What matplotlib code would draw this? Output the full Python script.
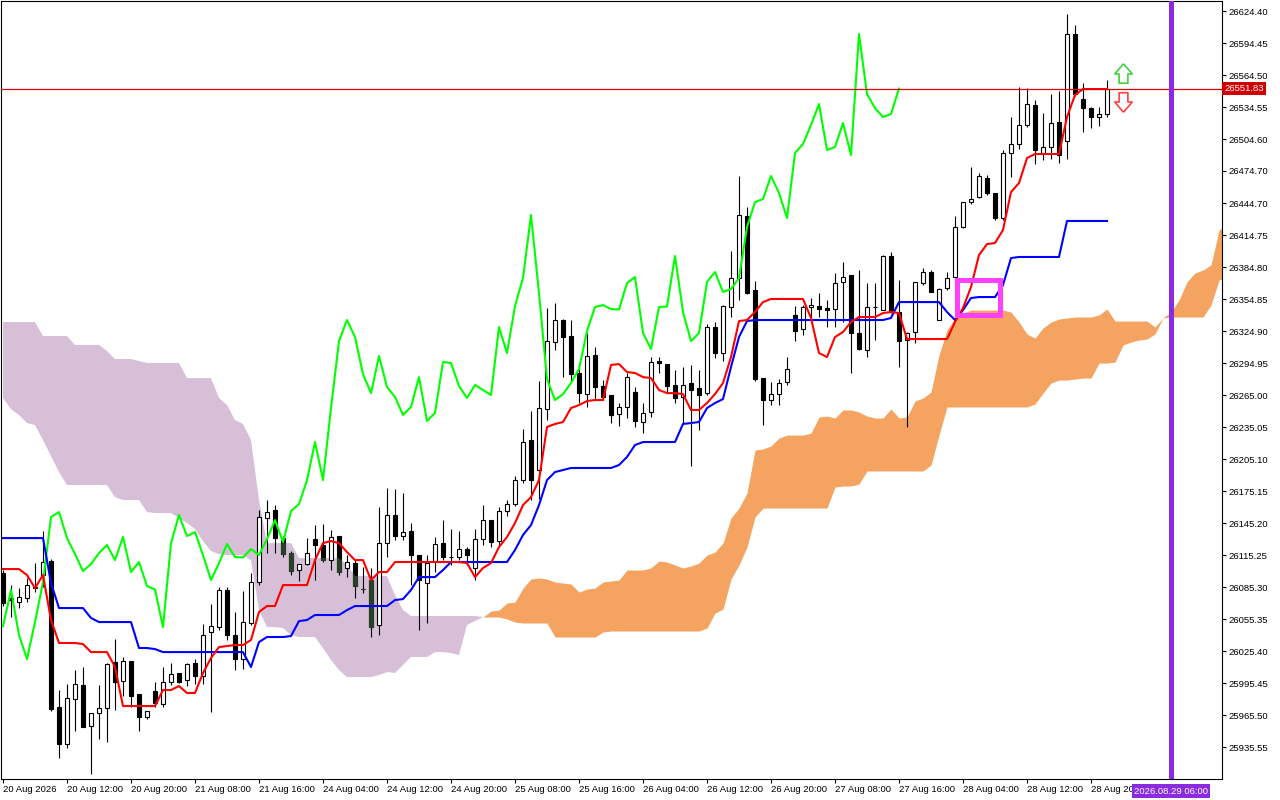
import numpy as np
import matplotlib
matplotlib.use("Agg")
import matplotlib.pyplot as plt
from matplotlib.path import Path
from matplotlib.patches import Rectangle
import matplotlib.transforms as mtransforms

plt.rcParams['font.family'] = ['Liberation Sans', 'DejaVu Sans']

# hourly candles, bar 0 is the leftmost one
opens = [26098.4, 26075.0, 26071.2, 26075.0, 26085.3, 26096.5, 26109.6, 25972.9, 25938.3, 25980.4,
         25993.5, 25955.2, 25967.3, 25972.0, 26015.1, 25997.3, 26016.0, 25985.1, 25963.6, 25987.9,
         25975.8, 25996.3, 26004.8, 25998.2, 26014.1, 26002.0, 26043.1, 26047.8, 26082.5, 26040.3,
         26017.9, 26051.6, 26089.9, 26149.9, 26157.3, 26131.1, 26117.1, 26101.2, 26106.8, 26130.2,
         26124.6, 26110.5, 26133.0, 26103.1, 26107.7, 26083.4, 26091.8, 26049.7, 26126.4, 26152.7,
         26133.0, 26137.7, 26115.2, 26089.0, 26109.6, 26126.4, 26113.3, 26113.3, 26120.8, 26103.1,
         26130.2, 26148.0, 26128.3, 26156.4, 26162.9, 26185.4, 26222.9, 26194.8, 26251.9, 26314.6,
         26335.2, 26320.2, 26285.6, 26265.9, 26302.4, 26273.4, 26265.0, 26247.2, 26253.8, 26267.8,
         26239.7, 26249.1, 26296.8, 26294.0, 26274.4, 26263.1, 26276.2, 26271.6, 26266.8, 26328.6,
         26304.3, 26347.4, 26374.5, 26432.5, 26363.3, 26280.9, 26260.3, 26265.9, 26277.1, 26339.9,
         26326.8, 26347.4, 26348.3, 26346.0, 26345.5, 26370.8, 26377.3, 26323.0, 26307.1, 26347.4,
         26344.5, 26395.1, 26342.7, 26316.5, 26324.0, 26369.8, 26380.1, 26335.2, 26365.2, 26375.4,
         26422.2, 26445.6, 26450.3, 26468.1, 26454.1, 26430.7, 26491.5, 26499.9, 26517.7, 26536.4,
         26491.5, 26497.1, 26520.5, 26502.7, 26602.9, 26542.0, 26533.6, 26525.2, 26528.0]
highs = [26101.2, 26087.1, 26084.3, 26093.7, 26107.7, 26137.7, 26111.5, 25988.9, 25994.5, 26007.6,
         26010.4, 25967.3, 25993.5, 26014.1, 26036.6, 26019.7, 26016.0, 25985.1, 25969.2, 25996.3,
         26010.4, 26014.1, 26004.8, 26014.1, 26017.9, 26050.6, 26069.4, 26085.3, 26085.3, 26061.9,
         26081.5, 26098.4, 26157.3, 26166.7, 26162.0, 26133.0, 26118.9, 26106.8, 26131.1, 26143.3,
         26144.2, 26138.6, 26133.0, 26115.2, 26110.5, 26104.0, 26103.1, 26160.2, 26177.9, 26177.0,
         26173.3, 26145.2, 26115.2, 26115.2, 26132.1, 26148.0, 26139.5, 26137.7, 26122.7, 26139.5,
         26162.0, 26148.0, 26160.2, 26166.7, 26189.2, 26233.2, 26250.0, 26278.1, 26346.4, 26351.1,
         26336.1, 26335.2, 26294.9, 26323.0, 26309.9, 26279.1, 26265.0, 26257.5, 26285.6, 26272.5,
         26257.5, 26300.5, 26300.5, 26294.0, 26288.4, 26291.2, 26293.1, 26288.4, 26331.4, 26333.3,
         26349.2, 26399.6, 26469.9, 26441.0, 26371.7, 26280.9, 26277.1, 26280.0, 26300.5, 26348.3,
         26349.2, 26355.8, 26360.5, 26353.9, 26379.2, 26389.5, 26377.3, 26382.0, 26369.8, 26369.8,
         26396.0, 26398.8, 26372.6, 26324.0, 26370.8, 26383.8, 26382.0, 26365.2, 26380.1, 26432.5,
         26445.6, 26478.4, 26472.8, 26470.9, 26454.1, 26494.3, 26525.2, 26553.3, 26552.3, 26541.1,
         26528.9, 26546.7, 26549.5, 26621.6, 26611.3, 26557.0, 26534.6, 26534.6, 26559.8]
lows = [26067.5, 26057.2, 26065.6, 26071.2, 26080.6, 26085.3, 25969.2, 25925.2, 25934.6, 25950.5,
        25954.2, 25910.2, 25943.0, 25940.2, 25970.1, 25983.2, 25972.9, 25950.5, 25961.7, 25972.9,
        25972.9, 25993.5, 25995.4, 25992.6, 25994.5, 25994.5, 25968.3, 26045.0, 26035.7, 26007.6,
        26008.5, 26049.7, 26087.1, 26117.1, 26117.1, 26113.3, 26096.5, 26090.9, 26105.9, 26091.8,
        26108.7, 26101.2, 26096.5, 26094.6, 26075.0, 26079.7, 26038.5, 26040.3, 26113.3, 26129.3,
        26129.3, 26087.1, 26045.0, 26051.6, 26099.3, 26110.5, 26105.9, 26110.5, 26105.9, 26091.8,
        26124.6, 26122.7, 26124.6, 26151.7, 26161.1, 26182.6, 26166.7, 26167.6, 26241.6, 26307.1,
        26281.8, 26277.1, 26257.5, 26253.8, 26260.3, 26260.3, 26238.8, 26236.0, 26243.5, 26235.1,
        26229.4, 26244.4, 26285.6, 26266.8, 26257.5, 26238.8, 26198.5, 26232.2, 26265.0, 26299.6,
        26296.8, 26338.0, 26353.9, 26359.5, 26278.1, 26236.9, 26255.6, 26255.6, 26274.4, 26315.5,
        26321.1, 26335.2, 26338.0, 26328.6, 26328.6, 26333.3, 26285.6, 26307.1, 26300.5, 26316.5,
        26344.5, 26341.7, 26291.2, 26235.1, 26313.7, 26368.0, 26361.4, 26335.2, 26363.3, 26372.6,
        26421.3, 26443.7, 26449.4, 26452.2, 26428.8, 26428.8, 26469.0, 26495.2, 26515.8, 26481.2,
        26484.9, 26485.9, 26482.1, 26485.9, 26544.8, 26511.2, 26514.9, 26516.8, 26525.2]
closes = [26070.3, 26073.1, 26075.9, 26087.1, 26084.3, 26108.7, 25971.1, 25938.3, 25981.4, 25994.5,
          25954.2, 25967.3, 25972.0, 26013.2, 25996.3, 26016.0, 25983.2, 25963.6, 25969.2, 25976.7,
          25996.3, 26003.8, 25996.3, 26013.2, 26002.0, 26040.3, 26048.7, 26082.5, 26040.3, 26017.9,
          26052.5, 26089.9, 26150.8, 26155.5, 26131.1, 26116.1, 26100.2, 26106.8, 26117.1, 26124.6,
          26110.5, 26132.1, 26099.3, 26108.7, 26086.2, 26083.0, 26047.8, 26126.4, 26152.7, 26133.0,
          26136.7, 26115.2, 26091.8, 26107.7, 26125.5, 26113.3, 26113.0, 26120.8, 26115.2, 26130.2,
          26148.0, 26127.4, 26156.4, 26162.9, 26185.4, 26221.0, 26185.4, 26252.8, 26315.5, 26335.2,
          26319.3, 26284.6, 26266.8, 26301.5, 26272.5, 26263.1, 26246.3, 26253.8, 26281.8, 26240.7,
          26248.2, 26295.9, 26294.9, 26273.4, 26262.2, 26274.4, 26269.7, 26265.0, 26328.6, 26304.3,
          26348.3, 26374.5, 26433.5, 26360.4, 26280.0, 26260.3, 26265.9, 26276.2, 26289.3, 26324.9,
          26347.4, 26349.2, 26345.5, 26345.0, 26369.8, 26375.4, 26323.0, 26308.0, 26347.4, 26347.8,
          26395.1, 26342.7, 26315.5, 26323.0, 26370.8, 26380.1, 26361.4, 26364.2, 26374.5, 26422.2,
          26445.6, 26448.4, 26470.0, 26454.1, 26430.7, 26491.5, 26499.9, 26517.7, 26537.4, 26494.3,
          26497.1, 26519.6, 26489.6, 26602.9, 26546.7, 26533.6, 26525.2, 26528.0, 26551.83]

# ichimoku lines
tenkan = [26102.1, 26102.1, 26102.1, 26096.5, 26084.3, 26096.5, 26054.4, 26032.9, 26032.9, 26032.9,
          26031.9, 26024.4, 26024.4, 26024.4, 26010.4, 25973.9, 25973.9, 25973.9, 25973.9, 25973.9,
          25988.9, 25988.9, 25992.6, 25986.1, 25986.1, 26004.8, 26018.8, 26029.1, 26030.0, 26031.0,
          26031.0, 26035.7, 26061.9, 26067.5, 26067.5, 26087.1, 26087.1, 26087.1, 26087.1, 26110.5,
          26126.4, 26128.3, 26126.4, 26118.0, 26110.5, 26110.5, 26091.8, 26099.3, 26099.3, 26108.7,
          26108.7, 26108.7, 26108.7, 26108.7, 26108.7, 26108.7, 26108.7, 26108.7, 26107.7, 26094.6,
          26103.1, 26107.7, 26122.7, 26132.1, 26145.2, 26162.0, 26169.5, 26185.4, 26235.1, 26237.9,
          26239.7, 26252.8, 26255.6, 26259.4, 26260.3, 26260.3, 26293.1, 26294.0, 26286.5, 26285.6,
          26281.8, 26280.9, 26269.7, 26266.8, 26266.8, 26265.9, 26251.0, 26251.0, 26257.5, 26265.9,
          26276.2, 26300.5, 26334.2, 26335.2, 26342.7, 26352.0, 26354.9, 26354.9, 26354.9, 26354.9,
          26354.9, 26337.1, 26304.3, 26300.5, 26319.3, 26324.0, 26333.3, 26338.0, 26338.0, 26338.0,
          26341.7, 26342.7, 26341.7, 26317.4, 26317.4, 26317.4, 26317.4, 26317.4, 26317.4, 26333.3,
          26346.4, 26366.1, 26396.0, 26406.3, 26407.3, 26419.5, 26455.0, 26463.4, 26486.8, 26490.6,
          26490.6, 26490.6, 26490.6, 26525.2, 26545.8, 26551.4, 26551.4, 26551.4, 26551.4]
kijun = [26131.1, 26131.1, 26131.1, 26131.1, 26131.1, 26131.1, 26089.0, 26065.6, 26065.6, 26065.6,
         26065.6, 26056.3, 26052.5, 26052.5, 26052.5, 26052.5, 26052.5, 26028.2, 26028.2, 26027.2,
         26024.4, 26024.4, 26024.4, 26024.4, 26024.4, 26024.4, 26024.4, 26024.4, 26024.4, 26024.4,
         26024.4, 26010.4, 26033.8, 26038.5, 26038.5, 26038.5, 26039.4, 26053.4, 26054.4, 26059.1,
         26059.1, 26059.1, 26059.1, 26063.7, 26067.5, 26067.5, 26067.5, 26067.5, 26067.5, 26073.1,
         26074.0, 26082.5, 26094.6, 26094.6, 26094.6, 26101.2, 26108.7, 26108.7, 26108.7, 26108.7,
         26108.7, 26108.7, 26108.7, 26108.7, 26119.9, 26134.0, 26143.3, 26162.0, 26185.4, 26192.9,
         26194.8, 26196.7, 26196.7, 26196.7, 26196.7, 26196.7, 26196.7, 26199.5, 26207.0, 26218.2,
         26221.0, 26221.0, 26221.0, 26221.0, 26221.0, 26237.9, 26238.8, 26239.7, 26252.8, 26257.5,
         26261.2, 26291.2, 26319.3, 26334.2, 26335.2, 26335.2, 26335.2, 26335.2, 26335.2, 26335.2,
         26335.2, 26335.2, 26335.2, 26335.2, 26335.2, 26335.2, 26335.2, 26335.2, 26335.2, 26335.2,
         26335.2, 26337.1, 26352.0, 26352.0, 26352.0, 26352.0, 26352.0, 26352.0, 26342.7, 26335.2,
         26344.5, 26355.8, 26356.7, 26356.7, 26356.7, 26367.9, 26393.2, 26394.2, 26394.2, 26394.2,
         26394.2, 26394.2, 26394.2, 26427.9, 26427.9, 26427.9, 26427.9, 26427.9, 26427.9]

# cloud edges (already shifted 26 bars ahead), bars 0..153
span_a = [26262.2, 26251.9, 26246.3, 26238.8, 26236.9, 26222.9, 26207.9, 26192.9, 26180.8, 26180.8,
          26180.8, 26180.8, 26180.8, 26180.8, 26169.5, 26166.7, 26166.7, 26166.7, 26155.5, 26154.5,
          26154.5, 26154.5, 26149.9, 26145.2, 26139.6, 26128.3, 26119.0, 26116.1, 26115.2, 26115.2,
          26115.2, 26110.5, 26063.7, 26047.8, 26047.8, 26046.9, 26040.3, 26038.5, 26038.5, 26038.5,
          26028.2, 26017.0, 26007.6, 26001.0, 26001.0, 26001.0, 26001.0, 26002.9, 26005.7, 26004.8,
          26012.3, 26019.8, 26019.8, 26019.8, 26024.4, 26024.4, 26023.5, 26021.6, 26049.7, 26053.5,
          26057.2, 26062.8, 26063.7, 26070.3, 26071.2, 26084.3, 26092.8, 26093.7, 26092.8, 26090.0,
          26089.0, 26088.1, 26080.6, 26083.4, 26084.3, 26090.0, 26090.9, 26091.8, 26101.2, 26101.2,
          26101.2, 26103.1, 26109.6, 26108.7, 26105.9, 26103.1, 26104.9, 26107.7, 26115.2, 26118.0,
          26126.4, 26149.9, 26159.2, 26173.3, 26213.5, 26214.5, 26217.3, 26224.7, 26227.5, 26227.5,
          26227.5, 26229.4, 26244.4, 26245.3, 26243.5, 26251.0, 26251.0, 26249.1, 26245.3, 26243.5,
          26243.5, 26251.9, 26243.5, 26244.4, 26259.4, 26262.2, 26267.8, 26302.4, 26325.8, 26337.1,
          26341.7, 26344.5, 26344.5, 26344.5, 26344.5, 26344.5, 26342.7, 26333.3, 26322.1, 26318.3,
          26327.7, 26333.3, 26336.1, 26337.1, 26338.0, 26338.0, 26338.0, 26339.9, 26345.5, 26334.2,
          26334.2, 26334.2, 26334.2, 26334.2, 26328.6, 26337.1, 26342.7, 26353.9, 26370.8, 26379.2,
          26382.0, 26386.7, 26419.4, 26425.0]
span_b = [26333.3, 26333.3, 26333.3, 26333.3, 26333.3, 26320.2, 26320.2, 26320.2, 26320.2, 26311.8,
          26311.8, 26311.8, 26311.8, 26306.2, 26298.7, 26298.7, 26298.7, 26296.8, 26295.0, 26295.0,
          26295.0, 26295.0, 26295.0, 26280.9, 26280.9, 26280.9, 26280.9, 26262.2, 26255.6, 26241.6,
          26237.9, 26222.9, 26166.7, 26126.4, 26126.4, 26126.4, 26126.4, 26112.4, 26112.4, 26112.4,
          26112.4, 26112.4, 26112.4, 26105.9, 26095.6, 26095.6, 26095.6, 26095.6, 26095.6, 26077.8,
          26063.7, 26058.2, 26058.2, 26058.2, 26058.2, 26058.2, 26058.2, 26058.2, 26058.2, 26058.2,
          26057.2, 26057.2, 26057.2, 26055.3, 26052.5, 26051.6, 26051.6, 26051.6, 26051.6, 26038.5,
          26038.5, 26038.5, 26038.5, 26038.5, 26038.5, 26043.2, 26044.1, 26044.1, 26044.1, 26044.1,
          26044.1, 26044.1, 26044.1, 26044.1, 26044.1, 26044.1, 26044.1, 26044.1, 26046.9, 26060.9,
          26064.7, 26092.8, 26105.9, 26122.7, 26150.8, 26159.2, 26159.2, 26159.2, 26159.2, 26159.2,
          26159.2, 26159.2, 26159.2, 26159.2, 26178.9, 26179.8, 26179.8, 26181.7, 26193.9, 26193.9,
          26193.9, 26193.9, 26193.9, 26193.9, 26193.9, 26193.9, 26199.5, 26227.5, 26253.8, 26253.8,
          26253.8, 26253.8, 26253.8, 26253.8, 26253.8, 26253.8, 26253.8, 26253.8, 26253.8, 26256.6,
          26266.8, 26276.2, 26279.0, 26279.0, 26280.0, 26280.9, 26280.9, 26294.9, 26294.9, 26295.9,
          26311.8, 26314.6, 26316.5, 26317.4, 26322.1, 26337.1, 26338.0, 26338.0, 26338.0, 26338.0,
          26338.0, 26349.2, 26372.6, 26375.4]

chikou_shift = 26

price_ticks = [26624.40, 26594.45, 26564.50, 26534.55, 26504.60, 26474.70, 26444.70, 26414.75,
               26384.80, 26354.85, 26324.90, 26294.95, 26265.00, 26235.05, 26205.10, 26175.15,
               26145.20, 26115.25, 26085.30, 26055.35, 26025.40, 25995.45, 25965.50, 25935.55]
date_bars = [0, 8, 16, 24, 32, 40, 48, 56, 64, 72, 80, 88, 96, 104, 112, 120, 128, 136]
date_labels = ['20 Aug 2026', '20 Aug 12:00', '20 Aug 20:00', '21 Aug 08:00', '21 Aug 16:00',
               '24 Aug 04:00', '24 Aug 12:00', '24 Aug 20:00', '25 Aug 08:00', '25 Aug 16:00',
               '26 Aug 04:00', '26 Aug 12:00', '26 Aug 20:00', '27 Aug 08:00', '27 Aug 16:00',
               '28 Aug 04:00', '28 Aug 12:00', '28 Aug 20:00']

last_price = 26551.83
vline_bar = 146
vline_label = '2026.08.29 06:00'
box_bars = (119.25, 124.6)
box_prices = (26340.0, 26372.5)
signal_bar = 140
signal_up_price = 26566.8
signal_down_price = 26539.7

o = np.array(opens)
h = np.array(highs)
l = np.array(lows)
c = np.array(closes)
x = np.arange(len(c))
xc = np.arange(len(span_a))
sa = np.array(span_a)
sb = np.array(span_b)

fig = plt.figure(figsize=(12.8, 8), dpi=100)
ax = fig.add_axes([1/1280, 21/800, 1221/1280, 778/800])
ax.set_xlim(-0.25, 152.375)
ax.set_ylim(25905.6, 26633.8)

# cloud
lilac = ax.fill_between(xc, sa, sb, where=sa <= sb, interpolate=True,
                        color='#D8BFD8', lw=0, zorder=1)
ax.fill_between(xc, sa, sb, where=sa >= sb, interpolate=True,
                color='#F4A460', lw=0, zorder=1)

# candles
up = c >= o
lo = np.minimum(o, c)
hh = np.abs(c - o)
ax.vlines(x, l, h, color='black', lw=0.8, zorder=3)
ax.bar(x[up], hh[up], bottom=lo[up], width=0.62, facecolor='white',
       edgecolor='black', lw=0.8, zorder=4)
ax.bar(x[~up], hh[~up], bottom=lo[~up], width=0.62, facecolor='black',
       edgecolor='black', lw=0.8, zorder=4)

# bear bodies look dark green where they sit inside the lilac cloud
clip = lilac.get_paths()[0]
dark = ax.bar(x[~up], hh[~up], bottom=lo[~up], width=0.62, facecolor='#274027',
              edgecolor='#274027', lw=0.8, zorder=4.5)
for p in dark:
    p.set_clip_path(clip, ax.transData)

# lines
ax.plot(x[:-chikou_shift], c[chikou_shift:], color='#00FF00', lw=1.5, zorder=5)
ax.plot(x, kijun, color='#0000FF', lw=1.5, zorder=5)
ax.plot(x, tenkan, color='#FF0000', lw=1.5, zorder=5)

ax.axhline(last_price, color='#E00000', lw=0.9, zorder=5)
ax.axvline(vline_bar, color='#8A2BE2', lw=3.6, zorder=6)

ax.add_patch(Rectangle((box_bars[0], box_prices[0]), box_bars[1] - box_bars[0],
                       box_prices[1] - box_prices[0], fill=False,
                       edgecolor='#FF40FF', lw=3.6, zorder=7))

# signal arrows
up_arrow = Path([(0, 1), (0.9, -0.05), (0.45, -0.05), (0.45, -1), (-0.45, -1),
                 (-0.45, -0.05), (-0.9, -0.05), (0, 1)])
down_arrow = Path([(0, -1), (0.9, 0.05), (0.45, 0.05), (0.45, 1), (-0.45, 1),
                   (-0.45, 0.05), (-0.9, 0.05), (0, -1)])
ax.plot([signal_bar], [signal_up_price], marker=up_arrow, markersize=14,
        mfc='white', mec='#40D040', mew=1.2, zorder=8)
ax.plot([signal_bar], [signal_down_price], marker=down_arrow, markersize=14,
        mfc='white', mec='#FF4040', mew=1.2, zorder=8)

# axes
for s in ax.spines.values():
    s.set_color('black')
    s.set_linewidth(0.8)
ax.yaxis.tick_right()
ax.set_yticks(price_ticks)
ax.set_yticklabels([f'{v:.2f}' for v in price_ticks])
ax.set_xticks(date_bars)
ax.set_xticklabels(date_labels, ha='left')
ax.tick_params(axis='both', direction='out', length=3, width=0.8, labelsize=6.8,
               colors='black', pad=1.5)

blend_y = mtransforms.blended_transform_factory(ax.transAxes, ax.transData)
ax.text(1.0018, last_price, f'{last_price:.2f}', transform=blend_y, ha='left', va='center',
        fontsize=6.8, color='white', zorder=10, clip_on=False,
        bbox=dict(facecolor='#D00000', edgecolor='none', pad=1.6))

blend_x = mtransforms.blended_transform_factory(ax.transData, ax.transAxes)
ax.text(vline_bar, -0.0155, vline_label, transform=blend_x, ha='center', va='center',
        fontsize=6.8, color='white', zorder=10, clip_on=False,
        bbox=dict(facecolor='#8A2BE2', edgecolor='none', pad=1.6))

fig.savefig('out.png', dpi=100, facecolor='white')
